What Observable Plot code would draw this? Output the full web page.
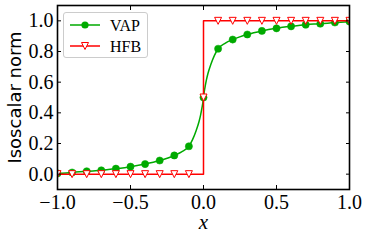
<!DOCTYPE html>
<html>
<head>
<meta charset="utf-8">
<script src="https://cdn.jsdelivr.net/npm/d3@7"></script>
<script src="https://cdn.jsdelivr.net/npm/@observablehq/plot@0.6"></script>
<style>
  body { margin: 0; background: #fff; }
  #wrap { position: relative; width: 368px; height: 241px; overflow: hidden; }
  #legend { position: absolute; left: 63px; top: 12px; width: 85px; height: 46px;
    box-sizing: border-box; border: 1px solid #cccccc; border-radius: 3px; background: rgba(255,255,255,0.85); }
</style>
</head>
<body>
<div id="wrap"></div>
<script>
// Marker positions
const markerX = [-1.0,-0.9,-0.8,-0.7,-0.6,-0.5,-0.4,-0.3,-0.2,-0.1,0.0,0.1,0.2,0.3,0.4,0.5,0.6,0.7,0.8,0.9,1.0];
const vapY = [0.005,0.011,0.019,0.025,0.036,0.049,0.066,0.089,0.122,0.182,0.5,0.818,0.878,0.911,0.934,0.951,0.964,0.975,0.981,0.989,0.995];
const hfbY = [0,0,0,0,0,0,0,0,0,0,0.5,1,1,1,1,1,1,1,1,1,1];
// VAP line, with extra points read near x = 0
const vapLineX = [-1.0,-0.9,-0.8,-0.7,-0.6,-0.5,-0.4,-0.3,-0.2,-0.15,-0.1,-0.075,-0.05,-0.03,-0.02,-0.01,-0.004,0,0.004,0.01,0.02,0.03,0.05,0.075,0.1,0.15,0.2,0.3,0.4,0.5,0.6,0.7,0.8,0.9,1.0];
const vapLineY = [0.005,0.011,0.019,0.025,0.036,0.049,0.066,0.089,0.122,0.145,0.182,0.225,0.285,0.345,0.385,0.435,0.47,0.5,0.53,0.565,0.615,0.655,0.715,0.775,0.818,0.855,0.878,0.911,0.934,0.951,0.964,0.975,0.981,0.989,0.995];
// HFB step line
const hfbLineX = [-1, 0, 0, 1];
const hfbLineY = [0, 0, 1, 1];
// ticks
const xTicks = [-1, -0.5, 0, 0.5, 1];
const yTicks = [0, 0.2, 0.4, 0.6, 0.8, 1.0];

const green = "#00aa00", red = "#ff0000";
const markers = markerX.map((x, i) => ({x, vap: vapY[i], hfb: hfbY[i]}));
const vapLine = vapLineX.map((x, i) => ({x, y: vapLineY[i]}));
const hfbLine = hfbLineX.map((x, i) => ({x, y: hfbLineY[i]}));

const triDown = {
  draw(ctx, size) {
    const s = Math.sqrt(size / Math.PI);
    ctx.moveTo(-s, -s);
    ctx.lineTo(s, -s);
    ctx.lineTo(0, s);
    ctx.closePath();
  }
};

const fmt = d3.format(".1f");
const serif = "'Liberation Serif', 'Times New Roman', serif";

const chart = Plot.plot({
  width: 368,
  height: 241,
  marginLeft: 57,
  marginRight: 19,
  marginTop: 5,
  marginBottom: 52,
  style: {fontFamily: serif, fontSize: "20px", background: "white"},
  x: {domain: [-1, 1]},
  y: {domain: [-0.1, 1.1]},
  marks: [
    Plot.line(vapLine, {x: "x", y: "y", stroke: green, strokeWidth: 1.5, curve: "monotone-x", clip: true}),
    Plot.dot(markers, {x: "x", y: "vap", r: 3.6, fill: green, stroke: green, strokeWidth: 0.5, clip: true}),
    Plot.line(hfbLine, {x: "x", y: "y", stroke: red, strokeWidth: 1.5, clip: true}),
    Plot.dot(markers, {x: "x", y: "hfb", r: 3.5, symbol: triDown, fill: "white", stroke: red, strokeWidth: 1, clip: true}),
    Plot.axisX(xTicks, {anchor: "bottom", tickSize: -4, tickPadding: 9, tickFormat: fmt, label: null, fontSize: 20, stroke: "black"}),
    Plot.axisX(xTicks, {anchor: "top", tickSize: -4, tickFormat: () => "", label: null, stroke: "black"}),
    Plot.axisY(yTicks, {anchor: "left", tickSize: -4, tickPadding: 8, tickFormat: fmt, label: null, fontSize: 20, stroke: "black"}),
    Plot.axisY(yTicks, {anchor: "right", tickSize: -4, tickFormat: () => "", label: null, stroke: "black"}),
    Plot.frame({stroke: "black", strokeWidth: 1.6}),
    Plot.text(["Isoscalar norm"], {frameAnchor: "left", dx: -42, rotate: -90, textAnchor: "middle", lineAnchor: "middle", fontSize: 18, fontFamily: "'DejaVu Sans', sans-serif", fill: "black"}),
    Plot.text(["x"], {frameAnchor: "bottom", dy: 33, textAnchor: "middle", lineAnchor: "middle", fontSize: 21, fontStyle: "italic", fontFamily: serif, fill: "black"})
  ]
});
const wrap = document.getElementById("wrap");
wrap.appendChild(chart);

// legend
const legend = document.createElement("div");
legend.id = "legend";
const ns = "http://www.w3.org/2000/svg";
const lsvg = document.createElementNS(ns, "svg");
lsvg.setAttribute("width", 83); lsvg.setAttribute("height", 44);
lsvg.style.position = "absolute"; lsvg.style.left = "0"; lsvg.style.top = "0";
const entries = [
  {label: "VAP", color: green, y: 12, marker: "circle"},
  {label: "HFB", color: red, y: 33, marker: "tri"}
];
for (const e of entries) {
  const ln = document.createElementNS(ns, "line");
  ln.setAttribute("x1", 6); ln.setAttribute("x2", 36);
  ln.setAttribute("y1", e.y); ln.setAttribute("y2", e.y);
  ln.setAttribute("stroke", e.color); ln.setAttribute("stroke-width", 1.5);
  lsvg.appendChild(ln);
  if (e.marker === "circle") {
    const c = document.createElementNS(ns, "circle");
    c.setAttribute("cx", 21); c.setAttribute("cy", e.y); c.setAttribute("r", 3.6);
    c.setAttribute("fill", e.color);
    lsvg.appendChild(c);
  } else {
    const p = document.createElementNS(ns, "path");
    p.setAttribute("d", `M${21-3.5},${e.y-3.5}L${21+3.5},${e.y-3.5}L21,${e.y+3.5}Z`);
    p.setAttribute("fill", "white"); p.setAttribute("stroke", e.color); p.setAttribute("stroke-width", 1);
    lsvg.appendChild(p);
  }
  const t = document.createElementNS(ns, "text");
  t.setAttribute("x", 46); t.setAttribute("y", e.y);
  t.setAttribute("dy", "0.35em");
  t.setAttribute("font-family", serif);
  t.setAttribute("font-size", 16);
  t.textContent = e.label;
  lsvg.appendChild(t);
}
legend.appendChild(lsvg);
wrap.appendChild(legend);
</script>
</body>
</html>
